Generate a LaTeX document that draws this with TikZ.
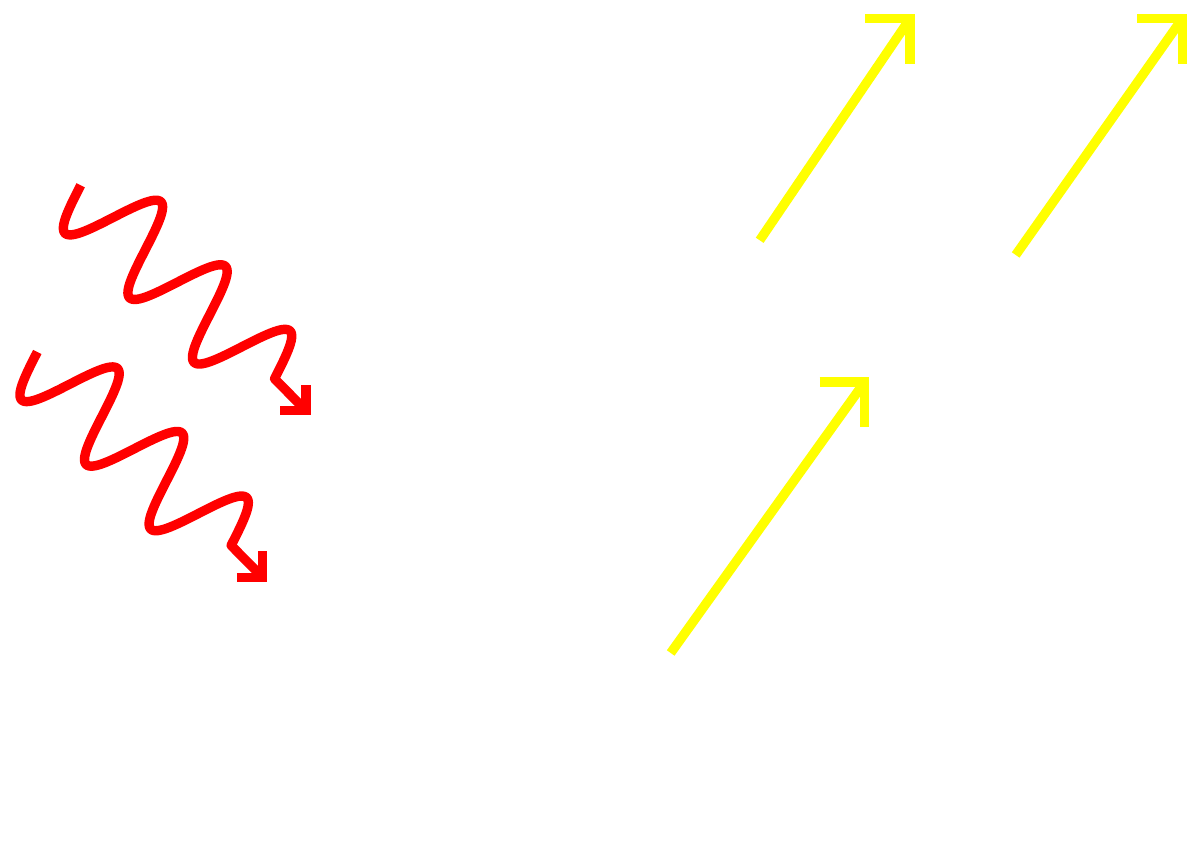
\documentclass[tikz,border=0pt]{standalone}
\usepackage{tikz}
\usetikzlibrary{calc}
\definecolor{photonred}{RGB}{255,0,0}
\definecolor{rayyellow}{RGB}{255,255,0}
\tikzset{
  photon/.style={photonred,line width=0.094cm,line cap=butt,line join=round},
  ray/.style={rayyellow,line width=0.094cm,line cap=butt,line join=miter},
  tip/.style={line join=miter}
}

\begin{document}
\begin{tikzpicture}
\def\A{0.45} \def\P{0.913} \def\Lr{0.26} \def\Ly{0.45}
\fill[white] (0,0) rectangle (12,8.64);
\useasboundingbox (0,0) rectangle (12,8.64);
\foreach \sx/\sy in {0.807/6.787,0.373/5.12}{
  \begin{scope}[shift={(\sx,\sy)},rotate=-45]
    \draw[photon] plot[domain=0:3*\P,samples=181,smooth] (\x,{-\A*sin(\x/\P*360)}) -- (3*\P+0.45,0) coordinate (ptip);
  \end{scope}
  \draw[photon,tip] ($(ptip)+(-\Lr,0)$) -- (ptip) -- ++(0,\Lr);
}
\foreach \tx/\ty/\hx/\hy in {7.597/6.237/9.10/8.453,10.157/6.09/11.823/8.453,6.707/2.11/8.645/4.818}{
  \coordinate (rtail) at (\tx,\ty);
  \coordinate (rtip) at (\hx,\hy);
  \draw[ray] (rtail) -- (rtip);
  \draw[ray] ($(rtip)+(-\Ly,0)$) -- (rtip) -- ++(0,-\Ly);
}
\end{tikzpicture}
\end{document}
